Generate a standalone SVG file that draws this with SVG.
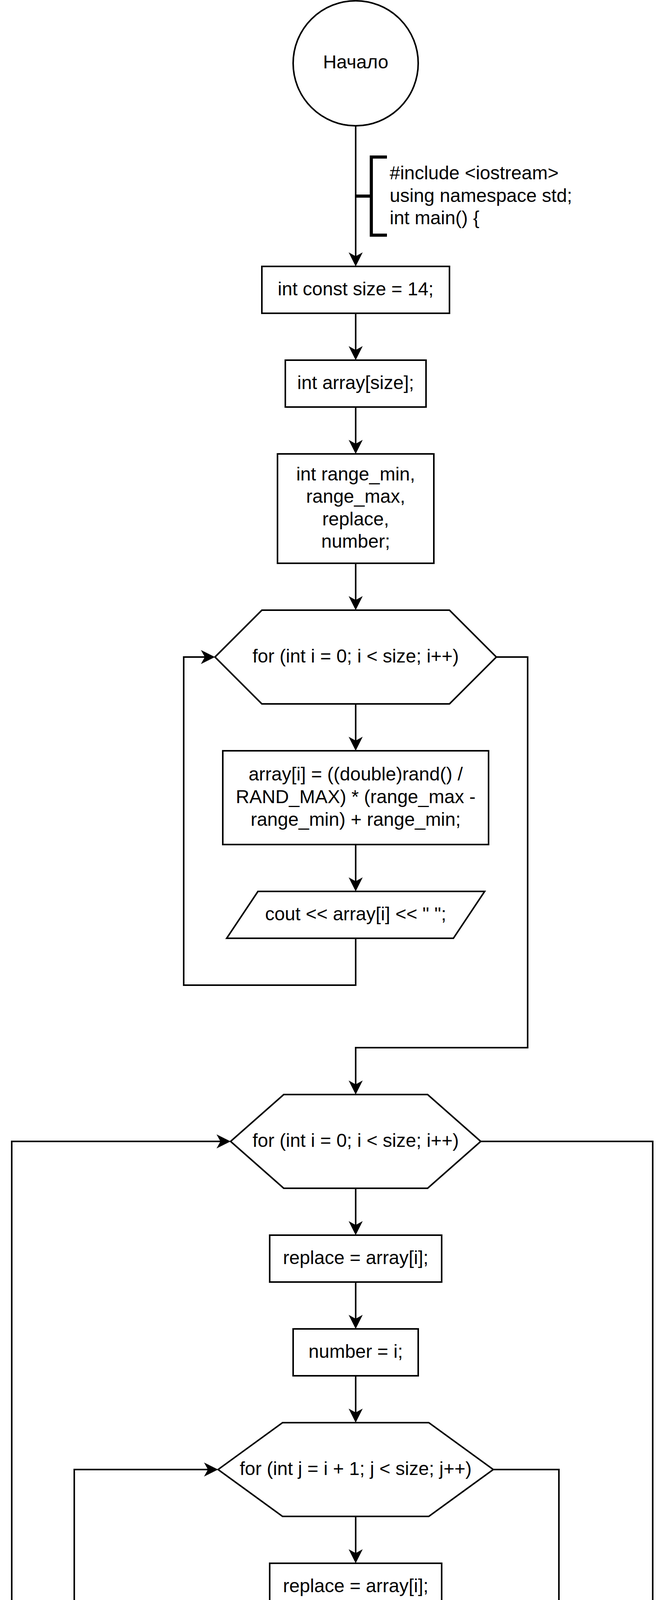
<svg xmlns="http://www.w3.org/2000/svg" width="1704" height="7804" viewBox="0 0 1704 7804">
<style>
.s{fill:#fff;stroke:#000;stroke-width:4;stroke-linejoin:miter}
.c{fill:none;stroke:#000;stroke-width:4;stroke-linejoin:miter;stroke-linecap:butt}
.ca{fill:none;stroke:#000;stroke-width:4;stroke-linejoin:miter;stroke-linecap:butt;marker-end:url(#arr)}
.br{fill:none;stroke:#000;stroke-width:8;stroke-linejoin:miter;stroke-linecap:butt}
text{font-family:"Liberation Sans",Arial,Helvetica,sans-serif;font-size:48px;fill:#000}
.m{text-anchor:middle}
.l{text-anchor:start}
.lb{font-size:44px;text-anchor:middle}
</style>
<defs>
<marker id="arr" viewBox="0 0 36 36" refX="10" refY="18" markerWidth="36" markerHeight="36" markerUnits="userSpaceOnUse" orient="auto">
<path d="M36,18 L0,0 L10,18 L0,36 Z" fill="#000"/>
</marker>
</defs>
<rect width="1704" height="7804" fill="#fff"/>

<g id="connectors">
<path class="ca" d="M910,322 V656"/>
<path class="c" d="M910,502 H950" style="stroke-width:8"/>
<path class="ca" d="M910,802 V896"/>
<path class="ca" d="M910,1042 V1136"/>
<path class="ca" d="M910,1442 V1536"/>
<path class="ca" d="M910,1802 V1896"/>
<path class="ca" d="M910,2162 V2256"/>
<path class="ca" d="M910,2402 V2522 H470 V1682 H524"/>
<path class="ca" d="M1270,1682 H1350 V2682 H910 V2776"/>
<path class="ca" d="M910,3042 V3136"/>
<path class="ca" d="M910,3282 V3376"/>
<path class="ca" d="M910,3522 V3616"/>
<path class="ca" d="M910,3882 V3976"/>
<path class="ca" d="M910,4122 V4216"/>
<path class="ca" d="M910,4362 V4456"/>
<path class="ca" d="M750,4642 H570 V4816"/>
<path class="ca" d="M570,4962 V5056"/>
<path class="ca" d="M570,5202 V5282 H190 V3762 H532"/>
<path class="ca" d="M1070,4642 H1270 V5282 H910 V5336"/>
<path class="ca" d="M1262,3762 H1430 V5282 H910 V5336"/>
<path class="ca" d="M910,5482 V5576"/>
<path class="ca" d="M910,5722 V5842 H30 V2922 H564"/>
<path class="ca" d="M1230,2922 H1670 V6042 H910 V6136"/>
<path class="ca" d="M910,6282 V6376"/>
<path class="ca" d="M910,6642 V6736"/>
<path class="ca" d="M910,6882 V7002 H470 V6522 H584"/>
<path class="ca" d="M1210,6522 H1314 V7162 H910 V7456"/>
<path class="c" d="M910,7321 H950" style="stroke-width:8"/>
<text class="lb" x="660" y="4623">1</text>
<text class="lb" x="1161" y="4621">0</text>
</g>

<g id="start">
<circle class="s" cx="910" cy="162" r="160"/>
<text class="m" x="910" y="175">Начало</text>
</g>

<g id="note-head">
<path class="br" d="M990,402 H950 V602 H990"/>
<text class="l" x="997" y="459">#include &lt;iostream&gt;</text>
<text class="l" x="997" y="516.6">using namespace std;</text>
<text class="l" x="997" y="574.2">int main() {</text>
</g>

<g id="size">
<rect class="s" x="670" y="682" width="480" height="120"/>
<text class="m" x="910" y="756">int const size = 14;</text>
</g>

<g id="array-decl">
<rect class="s" x="730" y="922" width="360" height="120"/>
<text class="m" x="910" y="996">int array[size];</text>
</g>

<g id="vars">
<rect class="s" x="710" y="1162" width="400" height="280"/>
<text class="m" x="910" y="1229.6">int range_min,</text>
<text class="m" x="910" y="1287.2">range_max,</text>
<text class="m" x="910" y="1344.8">replace,</text>
<text class="m" x="910" y="1402.4">number;</text>
</g>

<g id="loop1">
<polygon class="s" points="550,1682 670,1562 1150,1562 1270,1682 1150,1802 670,1802"/>
<text class="m" x="910" y="1696">for (int i = 0; i &lt; size; i++)</text>
</g>

<g id="rand">
<rect class="s" x="570" y="1922" width="680" height="240"/>
<text class="m" x="910" y="1998.4">array[i] = ((double)rand() /</text>
<text class="m" x="910" y="2056">RAND_MAX) * (range_max -</text>
<text class="m" x="910" y="2113.6">range_min) + range_min;</text>
</g>

<g id="out1">
<polygon class="s" points="660,2282 1240,2282 1160,2402 580,2402"/>
<text class="m" x="910" y="2356">cout &lt;&lt; array[i] &lt;&lt; " ";</text>
</g>

<g id="loop2">
<polygon class="s" points="590,2922 726,2802 1094,2802 1230,2922 1094,3042 726,3042"/>
<text class="m" x="910" y="2936">for (int i = 0; i &lt; size; i++)</text>
</g>

<g id="replace1">
<rect class="s" x="690" y="3162" width="440" height="120"/>
<text class="m" x="910" y="3236">replace = array[i];</text>
</g>

<g id="number1">
<rect class="s" x="750" y="3402" width="320" height="120"/>
<text class="m" x="910" y="3476">number = i;</text>
</g>

<g id="loop3">
<polygon class="s" points="558,3762 723,3642 1097,3642 1262,3762 1097,3882 723,3882"/>
<text class="m" x="910" y="3776">for (int j = i + 1; j &lt; size; j++)</text>
</g>

<g id="replace2">
<rect class="s" x="690" y="4002" width="440" height="120"/>
<text class="m" x="910" y="4076">replace = array[i];</text>
</g>

<g id="number2">
<rect class="s" x="750" y="4242" width="320" height="120"/>
<text class="m" x="910" y="4316">number = i;</text>
</g>

<g id="cond">
<polygon class="s" points="910,4482 1070,4642 910,4802 750,4642"/>
<text class="m" x="910" y="4627">if (array[j] &lt;</text>
<text class="m" x="910" y="4685">replace)</text>
</g>

<g id="replace3">
<rect class="s" x="350" y="4842" width="440" height="120"/>
<text class="m" x="570" y="4916">replace = array[j];</text>
</g>

<g id="number3">
<rect class="s" x="410" y="5082" width="320" height="120"/>
<text class="m" x="570" y="5156">number = j;</text>
</g>

<g id="swap1">
<rect class="s" x="630" y="5362" width="560" height="120"/>
<text class="m" x="910" y="5436">array[number] = array[i];</text>
</g>

<g id="swap2">
<rect class="s" x="670" y="5602" width="480" height="120"/>
<text class="m" x="910" y="5676">array[i] = replace;</text>
</g>

<g id="endl">
<polygon class="s" points="770,6162 1130,6162 1050,6282 690,6282"/>
<text class="m" x="910" y="6236">cout &lt;&lt; endl;</text>
</g>

<g id="loop4">
<polygon class="s" points="610,6522 750,6402 1070,6402 1210,6522 1070,6642 750,6642"/>
<text class="m" x="910" y="6536">for (int i = 0; i &lt; size; i++)</text>
</g>

<g id="out2">
<polygon class="s" points="690,6762 1210,6762 1130,6882 610,6882"/>
<text class="m" x="910" y="6836">cout &lt;&lt; array[i] &lt;&lt; " ";</text>
</g>

<g id="note-tail">
<path class="br" d="M990,7241 H950 V7401 H990"/>
<text class="l" x="997" y="7306">return 0;</text>
<text class="l" x="997" y="7364">}</text>
</g>

<g id="end">
<circle class="s" cx="910" cy="7642" r="160"/>
<text class="m" x="910" y="7656">Конец</text>
</g>
</svg>
